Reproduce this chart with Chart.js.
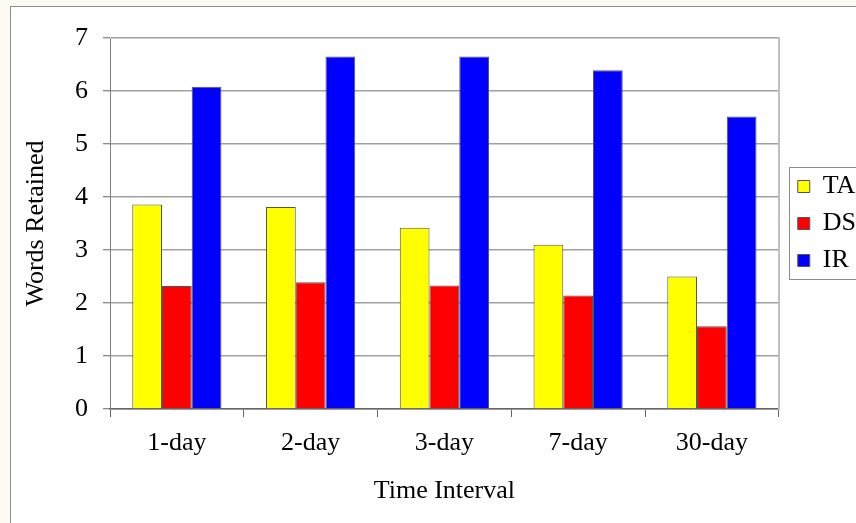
<!DOCTYPE html>
<html lang="en">
<head>
  <meta charset="UTF-8" />
  <title>Words Retained by Time Interval</title>
  <script src="https://cdn.jsdelivr.net/npm/chart.js"></script>
  <style>
    html, body { margin: 0; padding: 0; overflow: hidden; }
    body { background: #fcfaf2; width: 856px; height: 523px; position: relative; }
    #panel {
      position: absolute; left: 10px; top: 6px;
      width: 900px; height: 600px;
      background: #fff; border: 1px solid #8c8c8c;
    }
    #chart { position: absolute; left: 0; top: 0; }
  </style>
</head>
<body>
  <div id="panel"></div>
  <canvas id="chart" width="856" height="523"></canvas>

  <script>
    // values
    const intervals = ['1-day', '2-day', '3-day', '7-day', '30-day'];
    const taValues = [3.86, 3.81, 3.42, 3.10, 2.50];
    const dsValues = [2.32, 2.39, 2.33, 2.14, 1.56];
    const irValues = [6.08, 6.65, 6.65, 6.39, 5.52];
    const yTicks = [0, 1, 2, 3, 4, 5, 6, 7];

    const serif = 'Liberation Serif, Times New Roman, serif';

    // box around the legend, like the original
    const legendFrame = {
      id: 'legendFrame',
      afterDraw(chart) {
        const lg = chart.legend;
        const hb = lg.legendHitBoxes;
        if (!hb || !hb.length) return;
        const last = hb[hb.length - 1];
        const top = Math.round(hb[0].top - 7) + 0.5;
        const bottom = Math.round(last.top + last.height + 5) + 0.5;
        const ctx = chart.ctx;
        ctx.save();
        ctx.strokeStyle = '#8c8c8c';
        ctx.lineWidth = 1;
        ctx.strokeRect(Math.round(lg.left + 2) + 0.5, top, 300, bottom - top);
        ctx.restore();
      }
    };

    new Chart(document.getElementById('chart'), {
      type: 'bar',
      data: {
        labels: intervals,
        datasets: [
          { label: 'TA', data: taValues, backgroundColor: '#ffff00' },
          { label: 'DS', data: dsValues, backgroundColor: '#ff0000' },
          { label: 'IR', data: irValues, backgroundColor: '#0000ff' }
        ]
      },
      options: {
        responsive: false,
        animation: false,
        layout: { padding: { top: 38, left: 0, bottom: 0, right: -10 } },
        datasets: {
          bar: {
            borderColor: '#555',
            borderWidth: 1,
            barPercentage: 1.0,
            categoryPercentage: 0.667
          }
        },
        plugins: {
          tooltip: { enabled: false },
          legend: {
            position: 'right',
            align: 'center',
            fullSize: false,
            labels: {
              boxWidth: 12,
              boxHeight: 12,
              padding: 11,
              color: '#000',
              font: { family: serif, size: 26 }
            }
          }
        },
        scales: {
          x: {
            grid: {
              drawOnChartArea: false,
              tickLength: 8,
              tickColor: '#666'
            },
            border: { color: '#666', width: 1.5 },
            ticks: {
              color: '#000',
              padding: 11,
              font: { family: serif, size: 26 }
            },
            title: {
              display: true,
              text: 'Time Interval',
              color: '#000',
              padding: { top: 0, bottom: 16 },
              font: { family: serif, size: 26 }
            },
            afterFit(scale) { scale.height = 114; }
          },
          y: {
            min: 0,
            max: 7,
            afterBuildTicks(scale) {
              scale.ticks = yTicks.map(v => ({ value: v }));
            },
            grid: {
              color: '#a0a0a0',
              lineWidth: 1.5,
              tickLength: 7,
              tickColor: '#666',
              tickWidth: 1
            },
            border: { color: '#808080', width: 1 },
            ticks: {
              color: '#000',
              padding: 15,
              font: { family: serif, size: 26 }
            },
            title: {
              display: true,
              text: 'Words Retained',
              color: '#000',
              padding: { top: 21, bottom: 0 },
              font: { family: serif, size: 26 }
            },
            afterFit(scale) { scale.width = 110; }
          },
          // empty right axis: draws the light plot edge and leaves a gap before the legend
          edge: {
            type: 'linear',
            position: 'right',
            ticks: { display: false },
            grid: { display: false, drawTicks: false },
            border: { color: '#c0c0c0', width: 2 },
            afterFit(scale) { scale.width = 8; }
          }
        }
      },
      plugins: [legendFrame]
    });
  </script>
</body>
</html>
